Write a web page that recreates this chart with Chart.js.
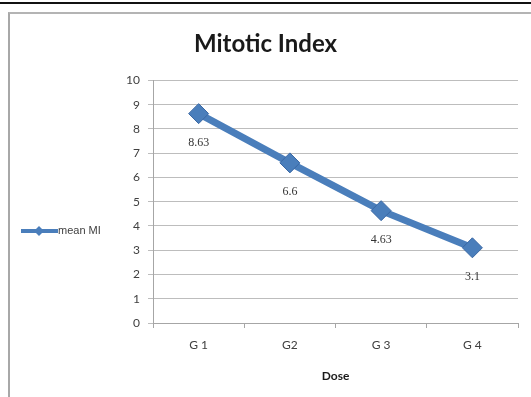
<!DOCTYPE html>
<html>
<head>
<meta charset="utf-8">
<script src="https://cdn.jsdelivr.net/npm/chart.js@4/dist/chart.umd.min.js"></script>
<style>
  html, body { margin: 0; padding: 0; background: #fff; }
  #wrap { position: relative; width: 531px; height: 397px; overflow: hidden; }
  #topline { position: absolute; left: 0; top: 2px; width: 531px; height: 2px; background: #111; }
  #frame { position: absolute; left: 8px; top: 12px; width: 540px; height: 400px;
           border-left: 2px solid #a8a8a8; border-top: 2px solid #b4b4b4; }
  canvas { position: absolute; left: 0; top: 0; }
</style>
</head>
<body>
<div id="wrap">
  <div id="topline"></div>
  <div id="frame"></div>
  <canvas id="grafico_lineas" width="531" height="397"></canvas>
</div>
<script>
var categorias = ["G 1", "G2", "G 3", "G 4"];
var media_mi = [8.63, 6.6, 4.63, 3.1];
var etiquetas_valor = ["8.63", "6.6", "4.63", "3.1"];
var nombre_serie = "mean MI";

var azul = "#4a7ebb";
var azulOscuro = "#3a68a4";

// leyenda a la izquierda, linea con rombo como en Excel
var leyendaIzq = {
    id: "leyendaIzq",
    afterDraw: function (chart) {
        var ctx = chart.ctx;
        var y = 231;
        ctx.save();
        ctx.strokeStyle = azul;
        ctx.lineWidth = 4;
        ctx.beginPath();
        ctx.moveTo(21, y);
        ctx.lineTo(58, y);
        ctx.stroke();
        ctx.fillStyle = azul;
        ctx.beginPath();
        ctx.moveTo(39, y - 5);
        ctx.lineTo(44, y);
        ctx.lineTo(39, y + 5);
        ctx.lineTo(34, y);
        ctx.closePath();
        ctx.fill();
        ctx.fillStyle = "#404040";
        ctx.font = "11px 'Liberation Sans', sans-serif";
        ctx.textBaseline = "middle";
        ctx.fillText(nombre_serie, 58, y);
        ctx.restore();
    }
};

// etiquetas de datos debajo de cada punto
var etiquetasDatos = {
    id: "etiquetasDatos",
    afterDatasetsDraw: function (chart) {
        var ctx = chart.ctx;
        var meta = chart.getDatasetMeta(0);
        ctx.save();
        ctx.fillStyle = "#333333";
        ctx.font = "12px 'Liberation Serif', serif";
        ctx.textAlign = "center";
        ctx.textBaseline = "middle";
        meta.data.forEach(function (p, i) {
            ctx.fillText(etiquetas_valor[i], p.x, p.y + 29);
        });
        ctx.restore();
    }
};

document.addEventListener("DOMContentLoaded", function () {
    var ctx = document.getElementById("grafico_lineas").getContext("2d");
    var myChart = new Chart(ctx, {
        type: "line",
        data: {
            labels: categorias,
            datasets: [{
                label: nombre_serie,
                data: media_mi,
                borderColor: azul,
                backgroundColor: azul,
                borderWidth: 7,
                pointStyle: "rectRot",
                pointRadius: 10,
                pointHoverRadius: 10,
                pointBackgroundColor: azul,
                pointBorderColor: azulOscuro,
                pointBorderWidth: 1,
                tension: 0
            }]
        },
        plugins: [leyendaIzq, etiquetasDatos],
        options: {
            responsive: false,
            animation: false,
            layout: { padding: { left: 13, right: 13, top: 0, bottom: 0 } },
            plugins: {
                legend: { display: false },
                tooltip: { enabled: false },
                title: {
                    display: true,
                    text: "Mitotic Index",
                    color: "#1a1a1a",
                    font: { family: "Lato", size: 24, weight: "bold", lineHeight: 1.1 },
                    padding: { top: 31, bottom: 23 }
                }
            },
            scales: {
                x: {
                    type: "category",
                    labels: categorias,
                    offset: true,
                    afterFit: function (s) { s.height = 74; },
                    grid: {
                        offset: true,
                        drawOnChartArea: false,
                        drawTicks: true,
                        tickLength: 5,
                        color: "#a6a6a6"
                    },
                    border: { color: "#a6a6a6" },
                    ticks: {
                        color: "#404040",
                        padding: 10,
                        font: { family: "Lato", size: 12 }
                    },
                    title: {
                        display: true,
                        text: "Dose",
                        color: "#1a1a1a",
                        font: { family: "Lato", size: 12, weight: "bold" },
                        padding: { top: 0, bottom: 14 }
                    }
                },
                y: {
                    min: 0,
                    max: 10,
                    beginAtZero: true,
                    afterFit: function (s) { s.width = 140; },
                    grid: {
                        color: "#bdbdbd",
                        tickLength: 5,
                        drawTicks: true
                    },
                    border: { color: "#a6a6a6" },
                    ticks: {
                        stepSize: 1,
                        color: "#404040",
                        padding: 8,
                        font: { family: "Lato", size: 12 }
                    }
                }
            }
        }
    });
});
</script>
</body>
</html>
